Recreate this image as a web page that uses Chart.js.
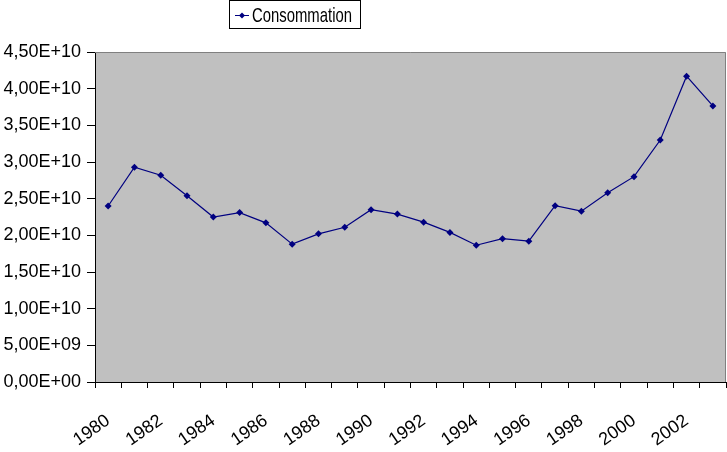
<!DOCTYPE html>
<html>
<head>
<meta charset="utf-8">
<script src="https://cdn.jsdelivr.net/npm/chart.js@4"></script>
<style>
  body { margin: 0; background: #fff; }
  canvas { display: block; }
</style>
</head>
<body>
<canvas id="chart" width="727" height="452"></canvas>
<script>
const years = ['1980', '1981', '1982', '1983', '1984', '1985', '1986', '1987', '1988', '1989', '1990', '1991',
  '1992', '1993', '1994', '1995', '1996', '1997', '1998', '1999', '2000', '2001', '2002', '2003'];
const consommation = [2.40e10, 2.93e10, 2.82e10, 2.54e10, 2.25e10, 2.31e10, 2.17e10, 1.88e10, 2.02e10, 2.11e10, 2.35e10, 2.29e10,
  2.18e10, 2.04e10, 1.865e10, 1.955e10, 1.92e10, 2.405e10, 2.33e10, 2.58e10, 2.80e10, 3.30e10, 4.17e10, 3.765e10];
const seriesName = 'Consommation';

function sci(v) {
  // 4.5e10 -> "4,50E+10"
  const s = Number(v).toExponential(2);
  const [m, e] = s.split('e');
  const sign = e[0] === '-' ? '-' : '+';
  const ex = e.replace(/[+-]/, '').padStart(2, '0');
  return m.replace('.', ',') + 'E' + sign + ex;
}

const navy = '#000080';

const excelLook = {
  id: 'excelLook',
  beforeDraw(chart) {
    const { ctx, chartArea: a } = chart;
    ctx.save();
    ctx.fillStyle = '#C0C0C0';
    ctx.fillRect(a.left, a.top, a.right - a.left, a.bottom - a.top);
    ctx.restore();
  },
  afterDraw(chart) {
    const { ctx, chartArea: a } = chart;
    ctx.save();
    ctx.strokeStyle = '#808080';
    ctx.lineWidth = 1;
    ctx.beginPath();
    ctx.moveTo(a.left, a.top + 0.5);
    ctx.lineTo(a.right - 0.5, a.top + 0.5);
    ctx.lineTo(a.right - 0.5, a.bottom);
    ctx.stroke();

    // legend box
    const bx = 229.5, by = 0.5, bw = 131, bh = 28;
    ctx.fillStyle = '#fff';
    ctx.fillRect(bx, by, bw, bh);
    ctx.strokeStyle = '#000';
    ctx.strokeRect(bx, by, bw, bh);
    const ly = 15;
    ctx.strokeStyle = navy;
    ctx.beginPath();
    ctx.moveTo(235, ly + 0.5);
    ctx.lineTo(249, ly + 0.5);
    ctx.stroke();
    ctx.fillStyle = navy;
    ctx.beginPath();
    ctx.moveTo(242, ly - 2.5);
    ctx.lineTo(245, ly + 0.5);
    ctx.lineTo(242, ly + 3.5);
    ctx.lineTo(239, ly + 0.5);
    ctx.closePath();
    ctx.fill();
    ctx.fillStyle = '#000';
    ctx.font = '21px "Liberation Sans", Arial, sans-serif';
    ctx.textBaseline = 'middle';
    ctx.fillText(seriesName, 252, ly + 1, 100);
    ctx.restore();
  }
};

new Chart(document.getElementById('chart'), {
  type: 'line',
  data: {
    labels: years,
    datasets: [{
      label: seriesName,
      data: consommation,
      borderColor: navy,
      backgroundColor: navy,
      borderWidth: 1.2,
      pointStyle: 'rectRot',
      pointRadius: 3.5,
      pointBorderWidth: 0,
      tension: 0
    }]
  },
  options: {
    responsive: false,
    animation: false,
    layout: { autoPadding: false, padding: { top: 52, right: 1, left: 0, bottom: 0 } },
    plugins: {
      legend: { display: false },
      tooltip: { enabled: false }
    },
    scales: {
      x: {
        offset: true,
        grid: { offset: true, drawOnChartArea: false, drawTicks: true, tickLength: 6, color: '#000' },
        border: { color: '#000', width: 1 },
        ticks: {
          autoSkip: false,
          minRotation: 35,
          maxRotation: 35,
          padding: 22,
          color: '#000',
          font: { family: '"Liberation Sans", Arial, sans-serif', size: 18 },
          callback: function (v, i) { return i % 2 === 0 ? this.getLabelForValue(v) : ''; }
        },
        afterFit(scale) {
          scale.height = 70;
          scale.paddingLeft = 0;
          scale.paddingRight = 0;
        }
      },
      y: {
        min: 0,
        max: 4.5e10,
        grid: { drawOnChartArea: false, drawTicks: true, tickLength: 8, color: '#000' },
        border: { color: '#000', width: 1 },
        ticks: {
          stepSize: 5e9,
          padding: 6,
          color: '#000',
          font: { family: '"Liberation Sans", Arial, sans-serif', size: 18 },
          callback: v => sci(v)
        },
        afterFit(scale) {
          scale.width = 95;
          scale.paddingTop = 0;
          scale.paddingBottom = 0;
        }
      }
    }
  },
  plugins: [excelLook]
});
</script>
</body>
</html>
